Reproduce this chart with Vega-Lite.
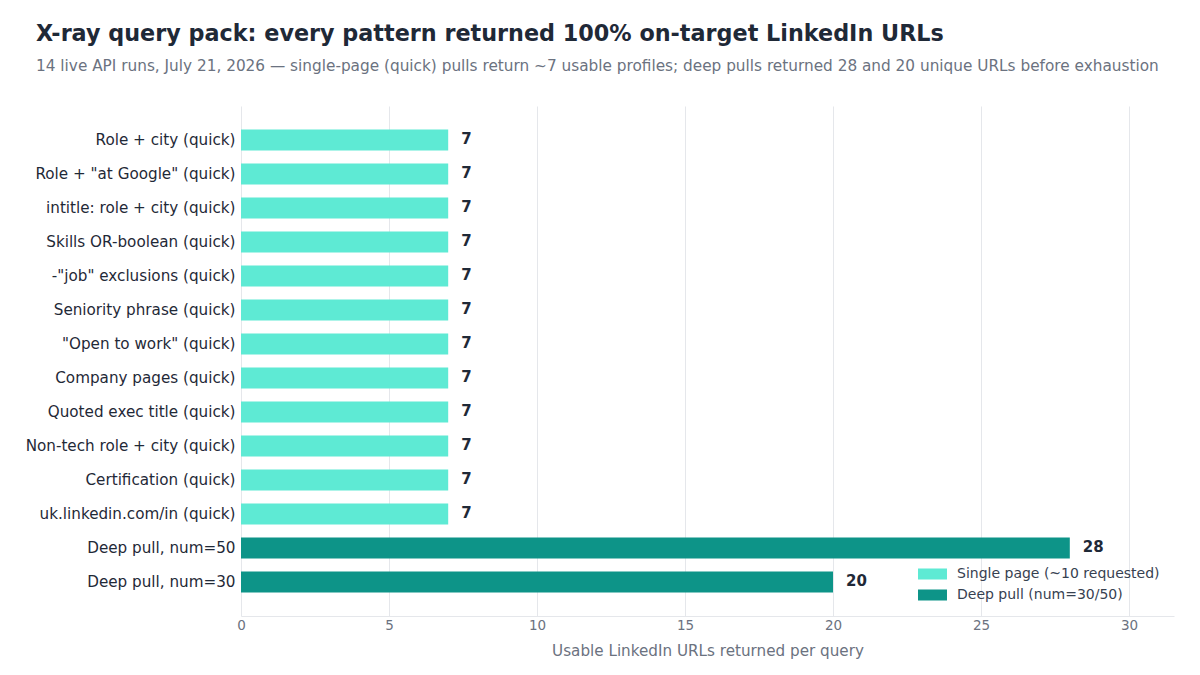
{
  "$schema": "https://vega.github.io/schema/vega-lite/v6.json",
  "width": 933,
  "height": 510,
  "autosize": {"type": "none"},
  "padding": {"left": 241, "top": 106, "right": 26, "bottom": 59},
  "background": "white",
  "config": {"font": "DejaVu Sans", "view": {"stroke": null}},
  "title": {
    "text": "X-ray query pack: every pattern returned 100% on-target LinkedIn URLs",
    "subtitle": "14 live API runs, July 21, 2026 — single-page (quick) pulls return ~7 usable profiles; deep pulls returned 28 and 20 unique URLs before exhaustion",
    "anchor": "start",
    "frame": "group",
    "offset": 32,
    "dx": -205,
    "fontSize": 22.3,
    "fontWeight": "bold",
    "color": "#1f2937",
    "subtitleFontSize": 15.3,
    "subtitleColor": "#6b7280",
    "subtitlePadding": 13
  },
  "data": {
    "values": [
      {"query": "Role + city (quick)", "urls": 7, "kind": "Single page (~10 requested)"},
      {"query": "Role + \"at Google\" (quick)", "urls": 7, "kind": "Single page (~10 requested)"},
      {"query": "intitle: role + city (quick)", "urls": 7, "kind": "Single page (~10 requested)"},
      {"query": "Skills OR-boolean (quick)", "urls": 7, "kind": "Single page (~10 requested)"},
      {"query": "-\"job\" exclusions (quick)", "urls": 7, "kind": "Single page (~10 requested)"},
      {"query": "Seniority phrase (quick)", "urls": 7, "kind": "Single page (~10 requested)"},
      {"query": "\"Open to work\" (quick)", "urls": 7, "kind": "Single page (~10 requested)"},
      {"query": "Company pages (quick)", "urls": 7, "kind": "Single page (~10 requested)"},
      {"query": "Quoted exec title (quick)", "urls": 7, "kind": "Single page (~10 requested)"},
      {"query": "Non-tech role + city (quick)", "urls": 7, "kind": "Single page (~10 requested)"},
      {"query": "Certification (quick)", "urls": 7, "kind": "Single page (~10 requested)"},
      {"query": "uk.linkedin.com/in (quick)", "urls": 7, "kind": "Single page (~10 requested)"},
      {"query": "Deep pull, num=50", "urls": 28, "kind": "Deep pull (num=30/50)"},
      {"query": "Deep pull, num=30", "urls": 20, "kind": "Deep pull (num=30/50)"}
    ]
  },
  "encoding": {
    "y": {
      "field": "query",
      "type": "nominal",
      "sort": null,
      "scale": {"paddingInner": 0.382, "paddingOuter": 0.691},
      "axis": {
        "title": null,
        "ticks": false,
        "domain": false,
        "labelFontSize": 15.2,
        "labelColor": "#1f2937",
        "labelPadding": 6,
        "labelLimit": 300,
        "grid": false
      }
    }
  },
  "layer": [
    {
      "mark": {"type": "bar"},
      "encoding": {
        "x": {
          "field": "urls",
          "type": "quantitative",
          "scale": {"domain": [0, 31.52], "nice": false},
          "axis": {
            "title": "Usable LinkedIn URLs returned per query",
            "titleFontSize": 15.2,
            "titleFontWeight": "normal",
            "titleColor": "#6b7280",
            "titlePadding": 12,
            "labelFontSize": 13.5,
            "labelColor": "#6b7280",
            "labelPadding": 2,
            "labelFlush": false,
            "values": [0, 5, 10, 15, 20, 25, 30],
            "ticks": false,
            "grid": true,
            "gridColor": "#e5e7eb",
            "domainColor": "#e5e7eb"
          }
        },
        "color": {
          "field": "kind",
          "type": "nominal",
          "scale": {
            "domain": ["Single page (~10 requested)", "Deep pull (num=30/50)"],
            "range": ["#5eead4", "#0d9488"]
          },
          "legend": {
            "title": null,
            "orient": "none",
            "legendX": 677,
            "legendY": 460,
            "labelFontSize": 14,
            "labelColor": "#374151",
            "labelLimit": 300,
            "labelOffset": 10,
            "symbolType": "M-1,-0.38H1V0.38H-1Z",
            "symbolSize": 840,
            "symbolStrokeWidth": 0,
            "clipHeight": 16,
            "rowPadding": 5
          }
        }
      }
    },
    {
      "mark": {"type": "text", "align": "left", "dx": 13, "dy": -1, "fontSize": 15, "fontWeight": "bold", "color": "#1f2937"},
      "encoding": {
        "x": {"field": "urls", "type": "quantitative"},
        "text": {"field": "urls", "type": "quantitative"}
      }
    }
  ]
}
